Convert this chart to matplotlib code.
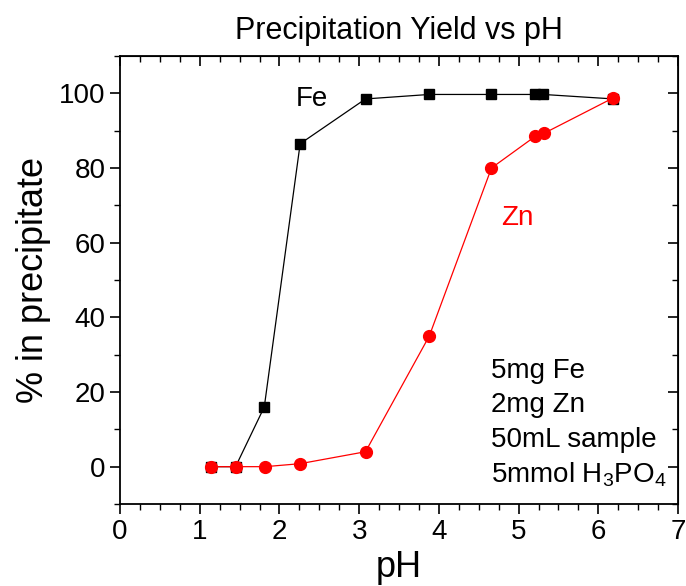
import matplotlib
matplotlib.use('Agg')
import matplotlib.pyplot as plt
from matplotlib.ticker import MultipleLocator

plt.rcParams['font.family'] = ['Liberation Sans', 'DejaVu Sans']
plt.rcParams['mathtext.fontset'] = 'custom'
plt.rcParams['mathtext.rm'] = 'Liberation Sans'
plt.rcParams['mathtext.default'] = 'regular'

# data
fe_ph = [1.14, 1.45, 1.81, 2.26, 3.08, 3.88, 4.66, 5.21, 5.31, 6.19]
fe_pct = [0.0, 0.0, 16.0, 86.5, 98.5, 99.7, 99.7, 99.7, 99.7, 98.5]
zn_ph = [1.14, 1.45, 1.82, 2.26, 3.08, 3.88, 4.66, 5.21, 5.32, 6.19]
zn_pct = [0.0, 0.0, 0.0, 0.8, 4.0, 35.0, 80.0, 88.5, 89.3, 98.8]
notes = ['5mg Fe', '2mg Zn', '50mL sample', r'5mmol H$_3$PO$_4$']

fig = plt.figure(figsize=(6.86, 5.86), dpi=100)
ax = fig.add_axes([120/686, 82/586, 558/686, 448/586])

ax.plot(fe_ph, fe_pct, color='black', lw=0.9, marker='s', ms=7.2)
ax.plot(zn_ph, zn_pct, color='red', lw=0.9, marker='o', ms=8.5)

ax.text(2.2, 98.5, 'Fe', fontsize=20, color='black', va='center', ha='left')
ax.text(4.78, 66.5, 'Zn', fontsize=20, color='red', va='center', ha='left')
for i, s in enumerate(notes):
    ax.text(4.66, 25.7 - i * 9.3, s, fontsize=20, va='center', ha='left')

ax.set_xlim(0, 7)
ax.set_ylim(-10, 110)
ax.xaxis.set_major_locator(MultipleLocator(1))
ax.xaxis.set_minor_locator(MultipleLocator(0.25))
ax.yaxis.set_major_locator(MultipleLocator(20))
ax.yaxis.set_minor_locator(MultipleLocator(10))
ax.tick_params(which='both', direction='out', top=False, right=False, labelsize=20)
ax.tick_params(which='major', length=7, width=1.2)
ax.tick_params(which='minor', length=4, width=1)
for sp in ax.spines.values():
    sp.set_linewidth(1.3)

# inward ticks on the top and right edges
axt = ax.secondary_xaxis('top')
axt.xaxis.set_major_locator(MultipleLocator(1))
axt.xaxis.set_minor_locator(MultipleLocator(0.25))
axt.tick_params(which='both', direction='in', labeltop=False)
axt.tick_params(which='major', length=7, width=1.2)
axt.tick_params(which='minor', length=4, width=1)
axr = ax.secondary_yaxis('right')
axr.yaxis.set_major_locator(MultipleLocator(20))
axr.yaxis.set_minor_locator(MultipleLocator(10))
axr.tick_params(which='both', direction='in', labelright=False)
axr.tick_params(which='major', length=7, width=1.2)
axr.tick_params(which='minor', length=4, width=1)

ax.set_xlabel('pH', fontsize=26, labelpad=4)
ax.set_ylabel('% in precipitate', fontsize=26, labelpad=6)
ax.set_title('Precipitation Yield vs pH', fontsize=22, pad=12)

fig.savefig('out.png', dpi=100)
